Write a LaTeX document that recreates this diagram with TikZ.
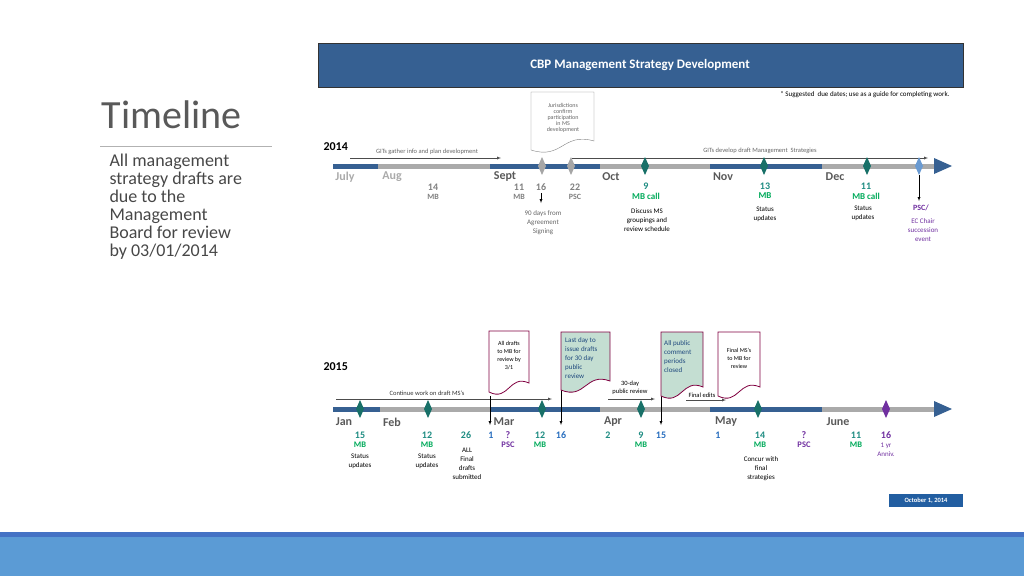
\documentclass[tikz,border=0pt]{standalone}
\usepackage{fontspec}
\setmainfont{Carlito}
\usepackage{xcolor}
\definecolor{bar_blue}{RGB}{54,96,146}
\definecolor{bar_gray}{RGB}{170,170,170}
\definecolor{date_teal}{RGB}{30,140,130}
\definecolor{mb_green}{RGB}{0,170,90}
\definecolor{date_blue}{RGB}{40,110,190}
\definecolor{psc_purple}{RGB}{112,48,160}
\definecolor{box_red}{RGB}{128,0,64}
\definecolor{box_green}{RGB}{196,222,210}
\definecolor{txt_dark}{RGB}{31,73,125}
\definecolor{band_blue}{RGB}{91,155,213}
\definecolor{band_dark}{RGB}{68,114,196}
\definecolor{title_gray}{RGB}{89,89,89}
\usetikzlibrary{positioning}
\newcommand{\fs}[1]{\fontsize{#1}{#1}\selectfont}
\tikzset{
  month/.style={font=\fs{12}\bfseries, text=title_gray},
  num/.style={font=\fs{10}\bfseries, inner sep=0pt},
  small/.style={font=\fs{6.5}, inner sep=0pt, align=center},
  dmd/.style={draw=#1!70!black, fill=#1, diamond shape/.try},
  flow/.style={-latex, thin, gray!60!black},
}
\newcommand{\gem}[3]{% x, y, colour
  \fill[#3] (#1,#2-9) -- (#1+4,#2) -- (#1,#2+9) -- (#1-4,#2) -- cycle;}
\newcommand{\docpath}[5]{% x1 y1 x2 y2 style
  \filldraw[#5] (#3,#2) -- (#1,#2) -- (#1,#4)
    .. controls (#1*0.5+#3*0.5,#4+10) and (#1*0.5+#3*0.5,#4-18) .. (#3,#4-9) -- cycle;}
\begin{document}
\begin{tikzpicture}[x=1pt,y=-1pt]
\useasboundingbox (0,0) rectangle (1024,576);
% band at the bottom
\fill[band_blue] (0,537) rectangle (1024,576);
\fill[band_dark] (0,532) rectangle (1024,537);

% left column
\node[anchor=west, font=\fs{40}, text=title_gray] (title) at (98,115) {Timeline};
\draw[gray!60] (100,146) -- (272,146);
\node[anchor=north west, align=left, font=\fs{18}, text=title_gray!80!black] (intro) at (106,150)
  {All management\\strategy drafts are\\due to the\\Management\\Board for review\\by 03/01/2014};

% header
\filldraw[fill=bar_blue, draw=black!80] (318,43) rectangle (963,87);
\node[font=\fs{13}\bfseries, text=white] (head) at (640,65) {CBP Management Strategy Development};
\node[anchor=east, font=\fs{7}] (note) at (953,95) {* Suggested\ \ due dates; use as a guide for completing work.};

%% 2014 ----------------------------------------------------------
\foreach \a/\b/\c in {333/378/bar_blue,378/490/bar_gray,490/600/bar_blue,600/710/bar_gray,710/822/bar_blue,822/936/bar_gray}
  \fill[\c] (\a,163.5) rectangle (\b,168.5);
\fill[bar_blue] (934,158) -- (952,166) -- (934,174) -- cycle;
\node[anchor=west, font=\fs{12}\bfseries] (y14) at (320,147) {2014};
\foreach \x/\m/\c in {345/July/bar_gray,392/Aug/bar_gray,505/Sept/title_gray,611/Oct/title_gray,723/Nov/title_gray,835/Dec/title_gray}
  \node[month, text=\c] (m\m) at (\x,177) {\m};

\coordinate (g1s) at (350,158); \coordinate (g1e) at (501,158);
\draw[flow] (g1s) -- (g1e);
\node[small, text=gray!80!black] (g1) at (427,152) {GITs gather info and plan development};
\coordinate (g2s) at (572,158); \coordinate (g2e) at (928,158);
\draw[flow] (g2s) -- (g2e);
\node[small, text=gray!80!black] (g2) at (760,151) {GITs develop draft Management\ \ Strategies};

\gem{542}{166}{gray!70} \gem{571}{166}{gray!70}
\gem{645}{166}{date_teal!80!black} \gem{764}{166}{date_teal!80!black}
\gem{867}{166}{date_teal!80!black} \gem{919}{166}{date_blue!70}

\docpath{531}{92}{594}{150}{draw=gray, fill=white}
\node[small, font=\fs{6}, text=gray!80!black] (juris) at (563,118) {Jurisdictions\\confirm\\participation\\in MS\\development};

\node[num, text=gray] (d14) at (433,187) {14};
\node[small, font=\fs{8}\bfseries, text=gray] (d14b) at (433,197) {MB};
\node[num, text=gray] (d11) at (519,187) {11};
\node[small, font=\fs{8}\bfseries, text=gray] (d11b) at (519,197) {MB};
\node[num, text=gray] (d16) at (541,187) {16};
\node[num, text=gray] (d22) at (575,187) {22};
\node[small, font=\fs{8}\bfseries, text=gray] (d22b) at (575,197) {PSC};
\draw[-latex, black, thin] (541,193) -- (541,203);
\node[small, font=\fs{7}, text=gray!80!black, align=center, text depth=0pt] (d90) at (543,222) {90 days from\\[2pt]Agreement\\[2pt]Signing};

\node[num, text=date_teal] (d9) at (646,186) {9};
\node[small, font=\fs{9}\bfseries, text=mb_green] (d9b) at (646,196) {MB call};
\node[small, font=\fs{7}] (d9c) at (647,220) {Discuss MS\\[2pt]groupings and\\[2pt]review schedule};
\node[num, text=date_teal] (d13) at (765,186) {13};
\node[small, font=\fs{9}\bfseries, text=mb_green] (d13b) at (765,196) {MB};
\node[small, font=\fs{7}] (d13c) at (765,214) {Status\\[2pt]updates};
\node[num, text=date_teal] (d11d) at (866,186) {11};
\node[small, font=\fs{9}\bfseries, text=mb_green] (d11e) at (866,196) {MB call};
\node[small, font=\fs{7}] (d11f) at (863,213) {Status\\[2pt]updates};
\draw[-latex, black, thin] (919,175) -- (919,201);
\node[small, font=\fs{8}\bfseries, text=psc_purple] (psc) at (921,208) {PSC/};
\node[small, font=\fs{7}, text=psc_purple] (ec) at (923,230) {EC Chair\\[2pt]succession\\[2pt]event};

%% 2015 ----------------------------------------------------------
\foreach \a/\b/\c in {333/380/bar_blue,380/490/bar_gray,490/600/bar_blue,600/710/bar_gray,710/822/bar_blue,822/936/bar_gray}
  \fill[\c] (\a,406.5) rectangle (\b,411.5);
\fill[bar_blue] (934,401) -- (952,409) -- (934,417) -- cycle;
\node[anchor=west, font=\fs{12}\bfseries] (y15) at (320,367) {2015};
\foreach \x/\m in {344/Jan,392/Feb,504/Mar,613/Apr,726/May,838/June}
  \node[month] (n\m) at (\x,422) {\m};

\coordinate (c1s) at (336,399); \coordinate (c1e) at (552,399);
\draw[flow] (c1s) -- (c1e);
\node[small, text=black!80] (c1) at (427,393) {Continue work on draft MS's};
\coordinate (c2s) at (608,399); \coordinate (c2e) at (655,399);
\draw[flow] (c2s) -- (c2e);
\node[small] (c2) at (630,388) {30-day\\[2pt]public review};
\coordinate (c3s) at (686,400); \coordinate (c3e) at (726,400);
\draw[flow] (c3s) -- (c3e);
\node[small] (c3) at (702,395) {Final edits};

\gem{360}{409}{date_teal!80!black} \gem{428}{409}{date_teal!80!black}
\gem{542}{409}{date_teal!80!black} \gem{641}{409}{date_teal!80!black}
\gem{758}{409}{date_teal!80!black} \gem{886}{409}{psc_purple}

\draw[-latex, thin] (490,396) -- (490,425);
\draw[-latex, thin] (561,380) -- (561,425);
\draw[-latex, thin] (661,396) -- (661,425);

\docpath{489}{331}{529}{392}{draw=box_red, thick, fill=white}
\node[small, font=\fs{6}] (bx1) at (509,356) {All drafts\\[2pt]to\ MB for\\[2pt]review\ by\\[2pt]3/1};
\docpath{561}{332}{610}{390}{draw=box_red, thick, fill=box_green}
\node[small, font=\fs{7}, text=txt_dark, align=left, anchor=north west] (bx2) at (565,337) {Last day to\\[2pt]issue drafts\\[2pt]for 30 day\\[2pt]public\\[2pt]review};
\docpath{661}{332}{703}{396}{draw=box_red, thick, fill=box_green}
\node[small, font=\fs{7}, text=txt_dark, align=left, anchor=north west] (bx3) at (664,340) {All public\\[2pt]comment\\[2pt]periods\\[2pt]closed};
\docpath{718}{332}{760}{396}{draw=box_red, thick, fill=white}
\node[small, font=\fs{6}] (bx4) at (739,358) {Final MS's\\[2pt]to MB for\\[2pt]review};

\foreach \x/\t/\c/\l in {360/15/date_teal/MB,427/12/date_teal/MB,466/26/date_teal/,491/1/date_blue/,508/?/psc_purple/PSC,540/12/date_teal/MB,561/16/date_blue/,608/2/date_teal/,641/9/date_teal/MB,661/15/date_blue/,718/1/date_blue/,760/14/date_teal/MB,804/?/psc_purple/PSC,856/11/date_teal/MB}
  \node[num, text=\c] (e\x) at (\x,435) {\t};
\foreach \x/\l/\c in {360/MB/mb_green,427/MB/mb_green,540/MB/mb_green,641/MB/mb_green,760/MB/mb_green,856/MB/mb_green,508/PSC/psc_purple,804/PSC/psc_purple}
  \node[small, font=\fs{8.5}\bfseries, text=\c] (f\x) at (\x,445) {\l};
\node[num, text=psc_purple] (e886) at (886,435) {16};
\node[small, font=\fs{7}, text=psc_purple] (f886) at (886,450) {1 yr\\[2pt]Anniv.};
\node[small, font=\fs{7}] (s360) at (360,461) {Status\\[2pt]updates};
\node[small, font=\fs{7}] (s427) at (427,461) {Status\\[2pt]updates};
\node[small, font=\fs{7}] (s466) at (467,464) {ALL\\[2pt]Final\\[2pt]drafts\\[2pt]submitted};
\node[small, font=\fs{7}] (s760) at (761,469) {Concur with\\[2pt]final\\[2pt]strategies};

\fill[date_blue!85!black] (889,494) rectangle (963,507);
\node[font=\fs{6.5}\bfseries, text=white] (oct) at (926,500.5) {October 1, 2014};
\end{tikzpicture}
\end{document}
